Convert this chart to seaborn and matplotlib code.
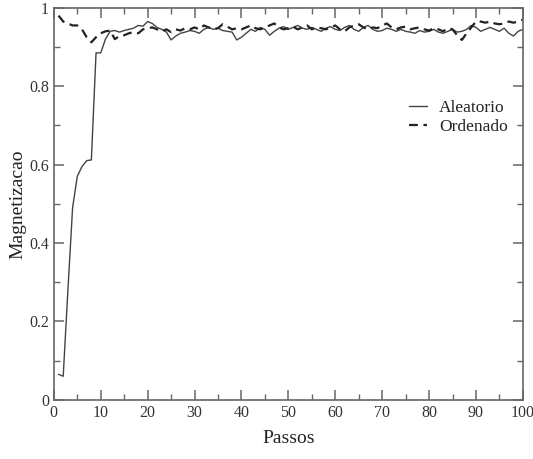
import numpy as np
import pandas as pd
import matplotlib
matplotlib.use("Agg")
import matplotlib.pyplot as plt
from matplotlib.ticker import MultipleLocator
import seaborn as sns

passos = list(range(1, 101))
aleatorio = [
    0.065, 0.060, 0.28, 0.49, 0.57, 0.595, 0.61, 0.612, 0.885, 0.885,
    0.920, 0.940, 0.942, 0.938, 0.942, 0.945, 0.948, 0.955, 0.953, 0.965,
    0.960, 0.950, 0.945, 0.938, 0.918, 0.928, 0.935, 0.938, 0.942, 0.940,
    0.935, 0.945, 0.950, 0.945, 0.948, 0.942, 0.940, 0.938, 0.918, 0.925,
    0.935, 0.945, 0.940, 0.950, 0.945, 0.930, 0.940, 0.948, 0.952, 0.945,
    0.950, 0.955, 0.948, 0.945, 0.950, 0.945, 0.940, 0.948, 0.952, 0.945,
    0.942, 0.950, 0.955, 0.945, 0.940, 0.950, 0.955, 0.945, 0.940, 0.942,
    0.948, 0.945, 0.940, 0.945, 0.940, 0.938, 0.935, 0.942, 0.938, 0.940,
    0.945, 0.938, 0.935, 0.940, 0.945, 0.938, 0.940, 0.945, 0.955, 0.950,
    0.940, 0.945, 0.950, 0.945, 0.940, 0.948, 0.935, 0.928, 0.940, 0.945,
]
ordenado = [
    0.980, 0.965, 0.960, 0.955, 0.955, 0.945, 0.925, 0.912, 0.925, 0.935,
    0.940, 0.942, 0.920, 0.928, 0.930, 0.935, 0.938, 0.935, 0.945, 0.948,
    0.950, 0.945, 0.940, 0.945, 0.938, 0.945, 0.942, 0.948, 0.945, 0.950,
    0.945, 0.955, 0.950, 0.945, 0.948, 0.958, 0.952, 0.945, 0.948, 0.945,
    0.950, 0.955, 0.948, 0.945, 0.950, 0.955, 0.960, 0.950, 0.945, 0.948,
    0.952, 0.945, 0.950, 0.955, 0.945, 0.950, 0.948, 0.945, 0.950, 0.955,
    0.945, 0.940, 0.950, 0.955, 0.958, 0.950, 0.945, 0.950, 0.948, 0.955,
    0.960, 0.950, 0.945, 0.950, 0.952, 0.945, 0.948, 0.950, 0.945, 0.942,
    0.948, 0.945, 0.940, 0.948, 0.945, 0.930, 0.918, 0.935, 0.950, 0.965,
    0.965, 0.962, 0.965, 0.960, 0.958, 0.960, 0.965, 0.962, 0.965, 0.970,
]
series_names = ["Aleatorio", "Ordenado"]
x_ticks = [0, 10, 20, 30, 40, 50, 60, 70, 80, 90, 100]
y_ticks = [0, 0.2, 0.4, 0.6, 0.8, 1]
y_tick_labels = ["0", "0.2", "0.4", "0.6", "0.8", "1"]

sns.set_style("ticks")
plt.rcParams["font.family"] = ["Liberation Serif", "DejaVu Serif"]

df_a = pd.DataFrame({"Passos": passos, "M": aleatorio})
df_o = pd.DataFrame({"Passos": passos, "M": ordenado})

fig = plt.figure(figsize=(5.33, 4.59), dpi=100)
ax = fig.add_axes([0.101, 0.129, 0.880, 0.854])

line_col = "#444444"
sns.lineplot(data=df_a, x="Passos", y="M", ax=ax, color=line_col, lw=1.0,
             label=series_names[0])
sns.lineplot(data=df_o, x="Passos", y="M", ax=ax, color="#222222", lw=1.6,
             linestyle=(0, (4, 2.5)), label=series_names[1])

ax.set_xlim(0, 100)
ax.set_ylim(0, 1)
ax.set_xticks(x_ticks)
ax.set_yticks(y_ticks)
ax.set_yticklabels(y_tick_labels)
ax.xaxis.set_minor_locator(MultipleLocator(5))
ax.yaxis.set_minor_locator(MultipleLocator(0.1))

spine_col = "#666666"
for s in ax.spines.values():
    s.set_visible(True)
    s.set_color(spine_col)
    s.set_linewidth(1.2)
ax.tick_params(which="both", direction="in", top=True, right=True,
               colors=spine_col, labelcolor="#333333", labelsize=11.5)
ax.tick_params(which="major", length=7, width=1.1)
ax.tick_params(which="minor", length=4, width=1.0)

ax.set_xlabel("Passos", fontsize=14, color="#222222")
ax.set_ylabel("Magnetizacao", fontsize=14, color="#222222")
ax.xaxis.set_label_coords(0.5, -0.077)
ax.yaxis.set_label_coords(-0.058, 0.5)

leg = ax.legend(loc="upper left", bbox_to_anchor=(0.757, 0.765), frameon=False,
                fontsize=12.5, handlelength=1.05, handletextpad=0.7,
                labelspacing=0.15, borderaxespad=0, borderpad=0)
for t in leg.get_texts():
    t.set_color("#222222")

fig.savefig("out.png", dpi=100)
